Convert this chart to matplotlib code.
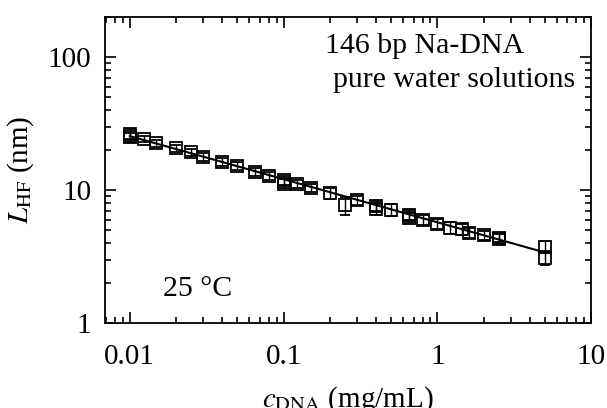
import numpy as np
import matplotlib
matplotlib.use('Agg')
import matplotlib.pyplot as plt
import matplotlib.ticker as ticker

plt.rcParams['font.family'] = ['Liberation Serif', 'DejaVu Serif']
plt.rcParams['mathtext.fontset'] = 'stix'

# concentration (mg/mL) and Debye-like length L_HF (nm)
c_dna = [0.01, 0.01, 0.0123, 0.0147, 0.02, 0.025, 0.03, 0.04, 0.05, 0.065,
         0.08, 0.1, 0.1, 0.123, 0.15, 0.2, 0.25, 0.3, 0.4, 0.4,
         0.5, 0.65, 0.65, 0.8, 1.0, 1.2, 1.45, 1.6, 2.0, 2.5,
         2.5, 5.0, 5.0]
L_hf = [26.5, 25.0, 24.3, 22.5, 20.7, 19.3, 17.8, 16.2, 15.3, 13.7,
        12.8, 11.9, 11.2, 11.1, 10.4, 9.5, 7.7, 8.4, 7.6, 7.2,
        7.1, 6.5, 6.2, 6.0, 5.6, 5.2, 5.1, 4.8, 4.6, 4.4,
        4.3, 3.75, 3.1]
rel_err = [0.08, 0.08, 0.06, 0.06, 0.06, 0.06, 0.07, 0.07, 0.07, 0.07,
           0.07, 0.08, 0.08, 0.07, 0.07, 0.09, 0.15, 0.08, 0.09, 0.09,
           0.1, 0.09, 0.09, 0.09, 0.09, 0.1, 0.1, 0.09, 0.08, 0.08,
           0.08, 0.1, 0.12]

# fitted power-law line
fit_c = [0.01, 5.0]
fit_L = [25.5, 3.4]

c_dna = np.array(c_dna)
L_hf = np.array(L_hf)
err = L_hf * np.array(rel_err)

fig = plt.figure(figsize=(6.07, 4.08), dpi=100)
ax = fig.add_axes([0.173, 0.208, 0.801, 0.750])

ax.plot(fit_c, fit_L, color='black', linewidth=1.5, zorder=2)
ax.errorbar(c_dna, L_hf, yerr=err, fmt='s', markersize=8.5, markerfacecolor='none',
            markeredgecolor='black', markeredgewidth=1.3, ecolor='black',
            elinewidth=1.0, capsize=3.5, capthick=1.0, zorder=3)

ax.set_xscale('log')
ax.set_yscale('log')
ax.set_xlim(0.0069, 10)
ax.set_ylim(1, 200)

ax.xaxis.set_major_formatter(ticker.FuncFormatter(lambda v, p: '%g' % v))
ax.yaxis.set_major_formatter(ticker.FuncFormatter(lambda v, p: '%g' % v))
ax.xaxis.set_minor_locator(ticker.LogLocator(base=10, subs=np.arange(2, 10)))
ax.yaxis.set_minor_locator(ticker.LogLocator(base=10, subs=np.arange(2, 10)))
ax.xaxis.set_minor_formatter(ticker.NullFormatter())
ax.yaxis.set_minor_formatter(ticker.NullFormatter())

ax.tick_params(which='both', direction='in', top=True, right=True,
               labelsize=21, width=1.2)
ax.tick_params(axis='x', which='major', pad=15)
ax.tick_params(axis='y', which='major', pad=10)
ax.tick_params(which='major', length=8)
ax.tick_params(which='minor', length=4.5)
for s in ax.spines.values():
    s.set_linewidth(1.3)

ax.set_xlabel(r'$c_{\rm DNA}$ (mg/mL)', fontsize=21, labelpad=10)
ax.set_ylabel(r'$L_{\rm HF}$ (nm)', fontsize=21, labelpad=8)

ax.text(0.453, 0.905, '146 bp Na-DNA', transform=ax.transAxes, fontsize=21.5,
        ha='left', va='center')
ax.text(0.468, 0.795, 'pure water solutions', transform=ax.transAxes, fontsize=21.5,
        ha='left', va='center')
ax.text(0.119, 0.11, '25 °C', transform=ax.transAxes, fontsize=21.5,
        ha='left', va='center')

fig.savefig('out.png', dpi=100)
